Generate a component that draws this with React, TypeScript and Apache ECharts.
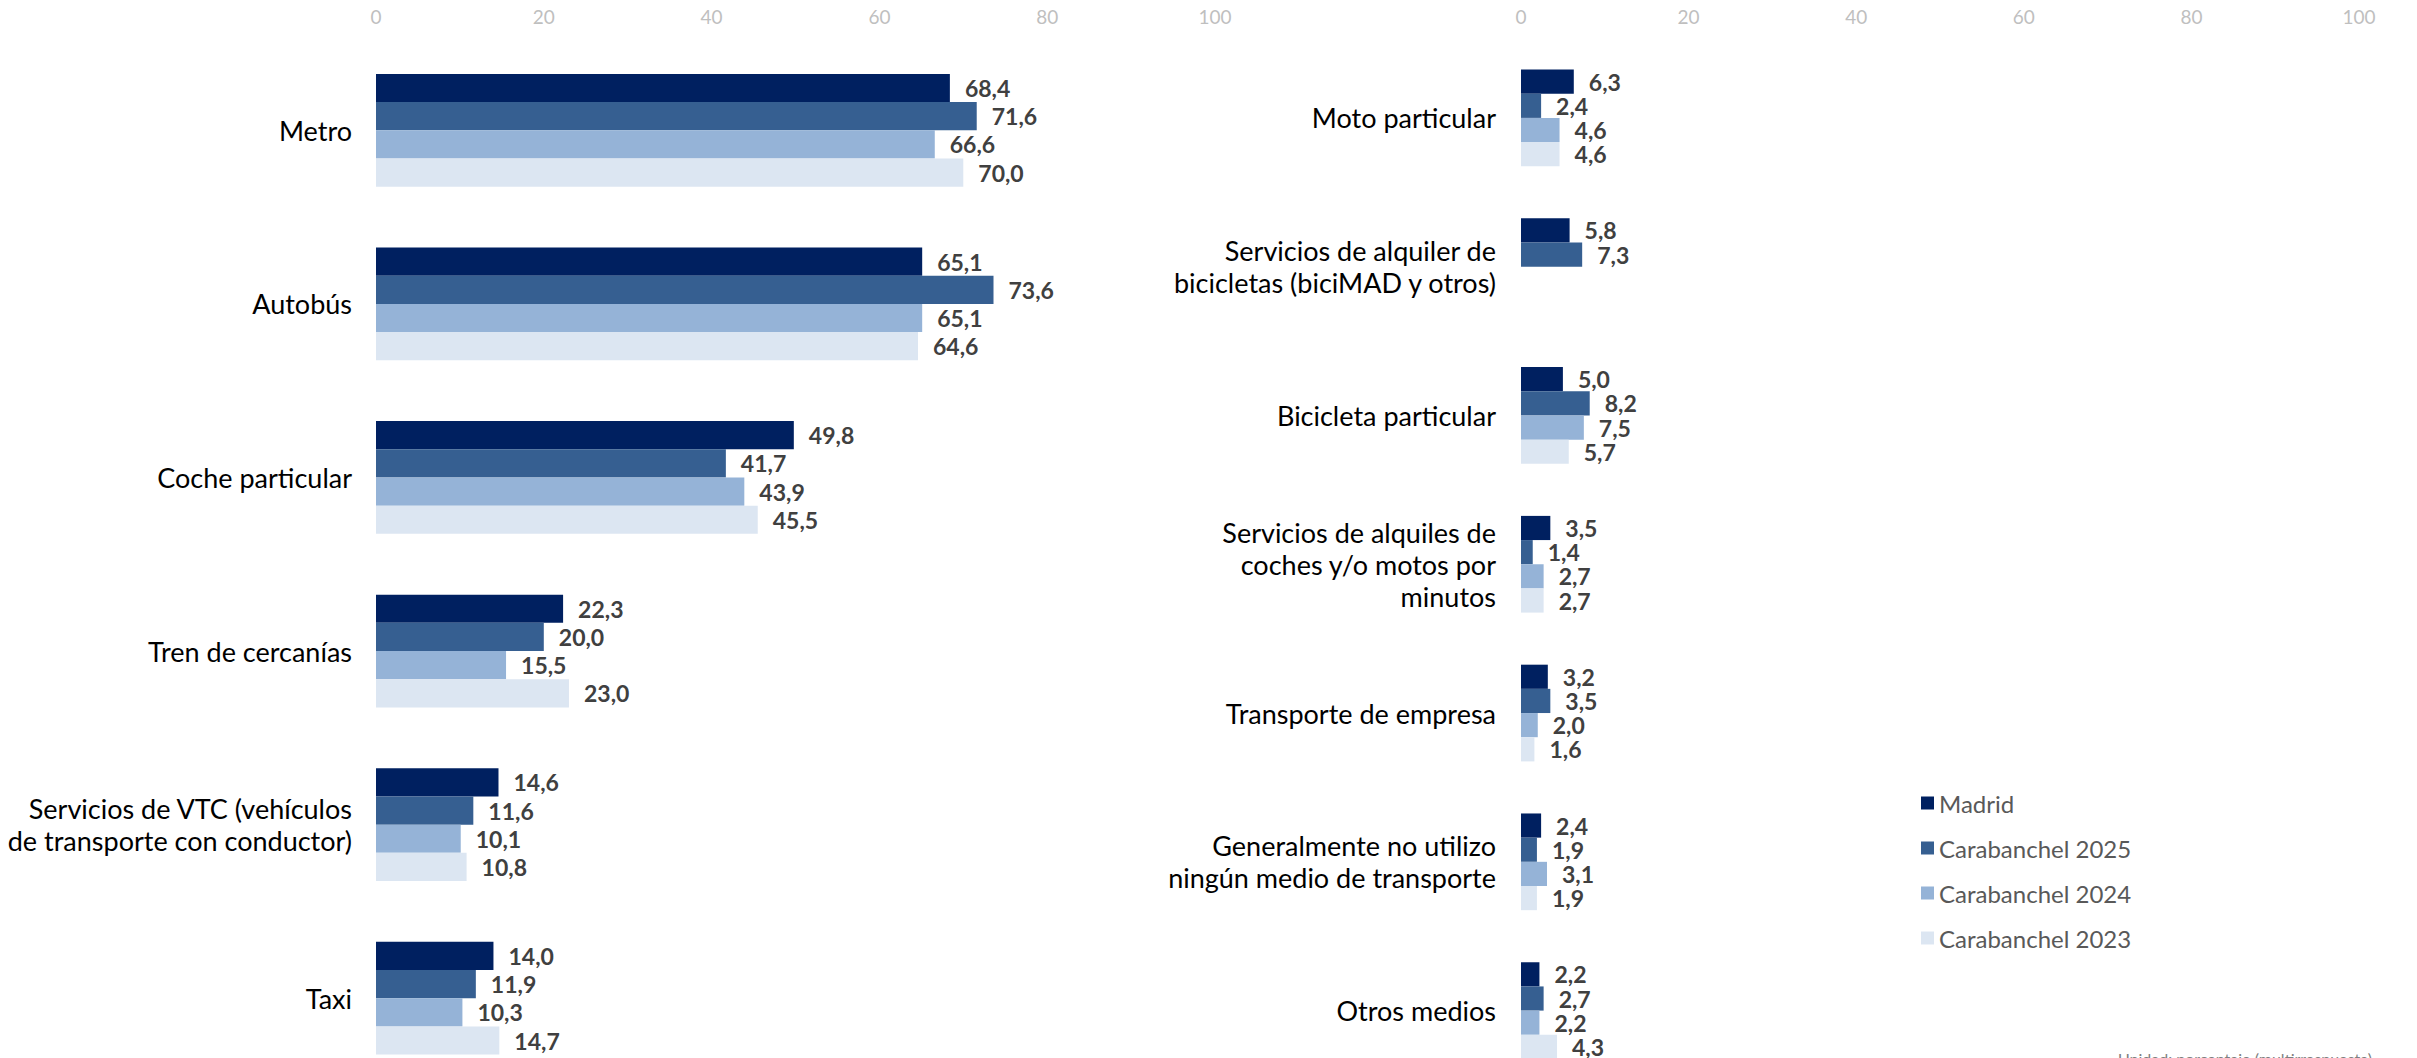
import React, { useEffect, useRef } from "react";
import * as echarts from "echarts";

const seriesNames = ["Madrid", "Carabanchel 2025", "Carabanchel 2024", "Carabanchel 2023"];
const seriesColors = ["#002060", "#365F91", "#95B3D7", "#DCE6F2"];

const leftCategories = [
  "Metro",
  "Autobús",
  "Coche particular",
  "Tren de cercanías",
  "Servicios de VTC (vehículos\nde transporte con conductor)",
  "Taxi",
];
const leftMadrid = [68.4, 65.1, 49.8, 22.3, 14.6, 14.0];
const leftCar2025 = [71.6, 73.6, 41.7, 20.0, 11.6, 11.9];
const leftCar2024 = [66.6, 65.1, 43.9, 15.5, 10.1, 10.3];
const leftCar2023 = [70.0, 64.6, 45.5, 23.0, 10.8, 14.7];

const rightCategories = [
  "Moto particular",
  "Servicios de alquiler de\nbicicletas (biciMAD y otros)",
  "Bicicleta particular",
  "Servicios de alquiles de\ncoches y/o motos por\nminutos",
  "Transporte de empresa",
  "Generalmente no utilizo\nningún medio de transporte",
  "Otros medios",
];
const rightMadrid = [6.3, 5.8, 5.0, 3.5, 3.2, 2.4, 2.2];
const rightCar2025 = [2.4, 7.3, 8.2, 1.4, 3.5, 1.9, 2.7];
const rightCar2024 = [4.6, null, 7.5, 2.7, 2.0, 3.1, 2.2];
const rightCar2023 = [4.6, null, 5.7, 2.7, 1.6, 1.9, 4.3];

const axisTicks = { min: 0, max: 100, interval: 20 };
const noteText = "Unidad: porcentaje (multirrespuesta)";

const FONT = "Lato";

export default function App() {
  const ref = useRef<HTMLDivElement>(null);

  useEffect(() => {
    if (!ref.current) return;
    const chart = echarts.init(ref.current, undefined, { renderer: "svg" });

    const fmt = (p: any) =>
      p.value == null || p.value === "-" ? "" : Number(p.value).toFixed(1).replace(".", ",");

    const gridTop = 43.5;
    const gridHeight = 1041.5;

    const makeX = (gridIndex: number) => ({
      type: "value",
      gridIndex,
      position: "top",
      min: axisTicks.min,
      max: axisTicks.max,
      interval: axisTicks.interval,
      axisLine: { show: false },
      axisTick: { show: false },
      splitLine: { show: false },
      axisLabel: {
        color: "#bfbfbf",
        fontFamily: FONT,
        fontSize: 19,
        margin: 18,
      },
    });

    const makeY = (gridIndex: number, data: string[], margin: number) => ({
      type: "category",
      gridIndex,
      inverse: true,
      data,
      axisLine: { show: false },
      axisTick: { show: false },
      splitLine: { show: false },
      axisLabel: {
        color: "#000000",
        fontFamily: FONT,
        fontSize: 27,
        lineHeight: 32,
        margin,
        align: "right",
      },
    });

    const leftData = [leftMadrid, leftCar2025, leftCar2024, leftCar2023];
    const rightData = [rightMadrid, rightCar2025, rightCar2024, rightCar2023];

    const makeSeries = (data: (number | null)[], i: number, axisIndex: number) => ({
      type: "bar",
      name: seriesNames[i],
      xAxisIndex: axisIndex,
      yAxisIndex: axisIndex,
      data: data.map((v) => (v == null ? "-" : v)),
      barGap: "0%",
      barCategoryGap: "35%",
      itemStyle: { color: seriesColors[i] },
      label: {
        show: true,
        position: "right",
        distance: 15,
        formatter: fmt,
        color: "#404040",
        fontFamily: FONT,
        fontWeight: "bold",
        fontSize: 23,
      },
    });

    const option: any = {
      animation: false,
      backgroundColor: "#ffffff",
      textStyle: { fontFamily: FONT },
      grid: [
        { left: 376, width: 839, top: gridTop, height: gridHeight, containLabel: false },
        { left: 1521, width: 838, top: gridTop, height: gridHeight, containLabel: false },
      ],
      xAxis: [makeX(0), makeX(1)],
      yAxis: [makeY(0, leftCategories, 24), makeY(1, rightCategories, 25)],
      legend: {
        orient: "vertical",
        left: 1921,
        top: 791,
        padding: 0,
        itemGap: 21,
        itemWidth: 13,
        itemHeight: 13,
        icon: "rect",
        data: seriesNames,
        textStyle: { color: "#595959", fontFamily: FONT, fontSize: 24 },
      },
      graphic: [
        {
          type: "text",
          left: 2118,
          top: 1050,
          style: {
            text: noteText,
            fill: "#7f7f7f",
            font: `16px ${FONT}`,
          },
        },
      ],
      series: [
        ...leftData.map((d, i) => makeSeries(d, i, 0)),
        ...rightData.map((d, i) => makeSeries(d, i, 1)),
      ],
    };

    chart.setOption(option);
    return () => chart.dispose();
  }, []);

  return (
    <div
      style={{
        position: "fixed",
        left: 0,
        top: 0,
        width: 2417,
        height: 1058,
        overflow: "hidden",
        background: "#fff",
      }}
    >
      <div ref={ref} style={{ width: 2417, height: 1100 }} />
    </div>
  );
}
